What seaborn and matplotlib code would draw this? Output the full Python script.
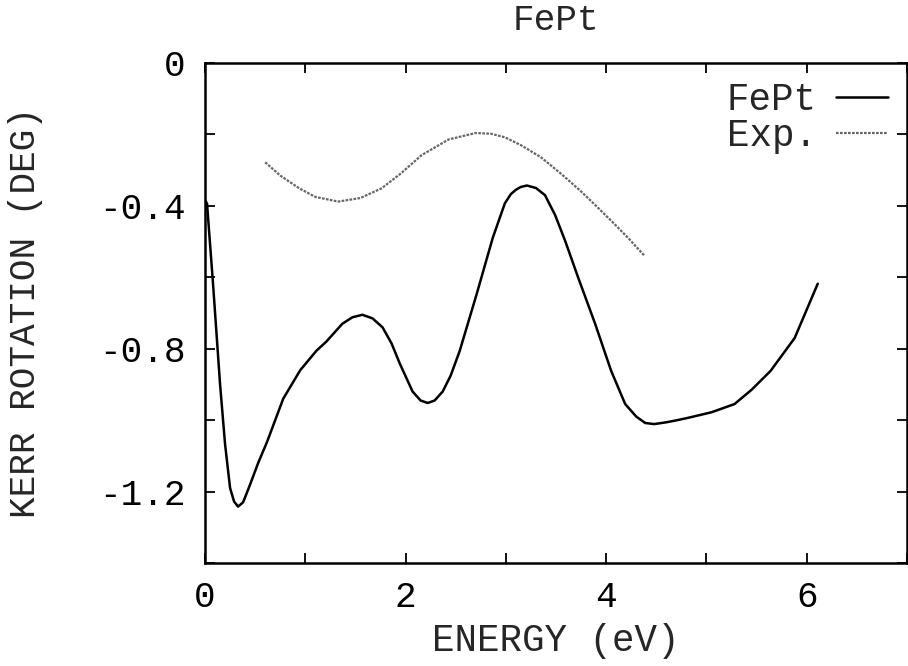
import matplotlib
matplotlib.use("Agg")
import matplotlib.pyplot as plt
import seaborn as sns
import pandas as pd
from matplotlib.ticker import MultipleLocator, FuncFormatter

# ---- data ----
fept_energy = [0.0, 0.02, 0.08, 0.15, 0.2, 0.25, 0.29, 0.33, 0.38, 0.45, 0.53, 0.62,
               0.78, 0.95, 1.11, 1.21, 1.37, 1.47, 1.57, 1.67, 1.77, 1.86, 1.94,
               2.07, 2.15, 2.22, 2.29, 2.37, 2.45, 2.54, 2.71, 2.87, 2.99, 3.05,
               3.1, 3.15, 3.21, 3.3, 3.39, 3.49, 3.59, 3.72, 3.89, 4.05, 4.19,
               4.3, 4.39, 4.48, 4.6, 4.71, 4.81, 5.05, 5.28, 5.45, 5.64, 5.88, 6.11]
fept_kerr = [-0.385, -0.393, -0.618, -0.899, -1.067, -1.19, -1.228, -1.242, -1.23,
             -1.18, -1.12, -1.06, -0.94, -0.86, -0.806, -0.78, -0.73, -0.712,
             -0.705, -0.715, -0.74, -0.785, -0.84, -0.92, -0.945, -0.952, -0.945,
             -0.92, -0.875, -0.806, -0.646, -0.489, -0.393, -0.367, -0.355,
             -0.347, -0.343, -0.35, -0.37, -0.425, -0.497, -0.60, -0.73, -0.862,
             -0.955, -0.99, -1.008, -1.011, -1.006, -1.0, -0.994, -0.978,
             -0.955, -0.915, -0.862, -0.77, -0.618]

exp_energy = [0.60, 0.75, 0.94, 1.1, 1.33, 1.55, 1.76, 1.95, 2.16, 2.43, 2.70,
              2.85, 2.99, 3.15, 3.35, 3.55, 3.74, 3.9, 4.08, 4.22, 4.38]
exp_kerr = [-0.278, -0.315, -0.351, -0.375, -0.388, -0.378, -0.351, -0.31, -0.258,
            -0.214, -0.196, -0.198, -0.208, -0.23, -0.264, -0.31, -0.357, -0.40,
            -0.45, -0.49, -0.539]

title = "FePt"
xlabel = "ENERGY (eV)"
ylabel = "KERR ROTATION (DEG)"
labels = ["FePt", "Exp."]

sns.set_style("white")
plt.rcParams['font.family'] = ['Liberation Mono', 'DejaVu Sans Mono']
plt.rcParams['font.size'] = 26

fig = plt.figure(figsize=(9.08, 6.66), dpi=100)
ax = fig.add_axes([205 / 908, 1 - 563 / 666, 702 / 908, 500 / 666])

df_t = pd.DataFrame({"E": fept_energy, "K": fept_kerr})
df_e = pd.DataFrame({"E": exp_energy, "K": exp_kerr})

sns.lineplot(data=df_t, x="E", y="K", ax=ax, color="black", lw=1.8,
             sort=False, estimator=None, label=labels[0])
sns.lineplot(data=df_e, x="E", y="K", ax=ax, color="#666666", lw=1.6,
             linestyle=(0, (1.2, 0.6)), sort=False, estimator=None, label=labels[1])

ax.set_xlim(0, 7)
ax.set_ylim(-1.4, 0)

ax.xaxis.set_major_locator(MultipleLocator(2))
ax.xaxis.set_minor_locator(MultipleLocator(1))
ax.yaxis.set_major_locator(MultipleLocator(0.4))
ax.yaxis.set_minor_locator(MultipleLocator(0.2))
ax.xaxis.set_major_formatter(FuncFormatter(lambda v, p: f"{v:g}"))
ax.yaxis.set_major_formatter(FuncFormatter(lambda v, p: "0" if abs(v) < 1e-9 else f"{v:.1f}"))

for which in ("major", "minor"):
    ax.tick_params(axis="both", which=which, direction="in", length=7, width=1.3,
                   top=True, right=True, bottom=True, left=True, colors="black")
ax.tick_params(axis="x", which="major", pad=12, labelsize=26)
ax.tick_params(axis="y", which="major", pad=14, labelsize=26)

for sp in ax.spines.values():
    sp.set_linewidth(1.8)
    sp.set_color("black")

ax.set_xlabel(xlabel, fontsize=27, labelpad=6)
ax.set_ylabel(ylabel, fontsize=26, labelpad=40)
ax.set_title(title, fontsize=26, pad=24)

leg = ax.legend(loc="upper right", frameon=False, markerfirst=False,
                fontsize=27, handlelength=1.4, handletextpad=0.5,
                labelspacing=0.0, borderaxespad=0.3, borderpad=0.2)

fig.savefig("out.png", dpi=100)
